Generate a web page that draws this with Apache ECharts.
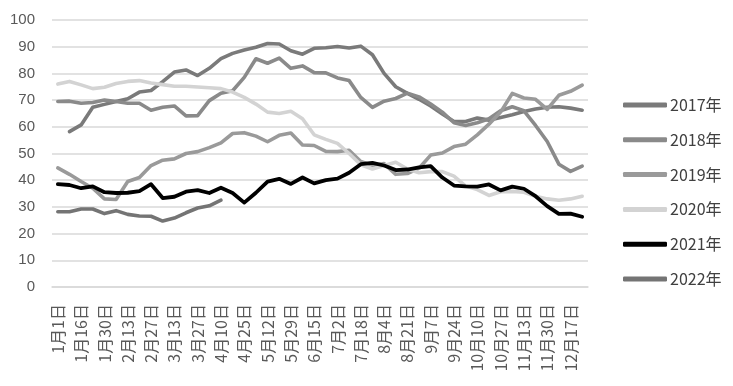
<!DOCTYPE html>
<html>
<head>
<meta charset="utf-8">
<script src="https://cdn.jsdelivr.net/npm/echarts@6/dist/echarts.min.js"></script>
<style>html,body{margin:0;padding:0;background:#fff;}#c{width:733px;height:386px;}</style>
</head>
<body>
<div id="c"></div>
<script>
var categories = ['1月1日','1月8日','1月16日','1月23日','1月30日','2月6日','2月13日','2月20日','2月27日','3月6日',
  '3月13日','3月20日','3月27日','4月3日','4月10日','4月17日','4月25日','5月4日','5月12日','5月20日',
  '5月29日','6月7日','6月15日','6月23日','7月2日','7月10日','7月18日','7月25日','8月4日','8月13日',
  '8月21日','8月30日','9月7日','9月15日','9月24日','10月2日','10月10日','10月18日','10月27日','11月5日',
  '11月13日','11月21日','11月30日','12月8日','12月17日','12月25日'];
var seriesNames = ['2017年','2018年','2019年','2020年','2021年','2022年'];
var y2017 = [null,58.2,60.7,67.3,68.4,69.5,70.5,73.0,73.6,76.9,80.5,81.3,79.2,81.9,85.5,87.5,88.8,89.8,91.2,91.0,
  88.5,87.2,89.4,89.6,90.1,89.5,90.2,87.0,80.0,75.0,72.5,70.3,67.8,64.8,62.0,62.0,63.3,62.5,63.5,64.5,
  65.7,66.7,67.3,67.5,67.0,66.2];
var y2018 = [69.5,69.6,68.8,69.1,70.0,69.5,68.8,68.8,66.2,67.3,67.8,64.1,64.2,69.8,72.6,73.5,78.5,85.5,83.8,85.7,
  81.9,82.8,80.3,80.2,78.3,77.3,71.0,67.3,69.6,70.6,72.6,71.2,68.5,65.5,61.5,60.5,61.5,63.0,66.0,67.5,
  66.0,60.5,54.5,46.0,43.3,45.3];
var y2019 = [44.6,42.2,39.5,37.0,33.0,32.8,39.5,41.0,45.5,47.5,48.0,50.0,50.7,52.2,54.0,57.5,57.8,56.5,54.4,56.8,
  57.7,53.2,53.0,50.8,50.7,51.2,47.0,45.5,46.2,42.2,42.5,44.5,49.4,50.2,52.6,53.5,57.0,61.0,65.5,72.5,
  70.8,70.3,66.5,71.8,73.3,75.6];
var y2020 = [76.0,77.0,75.7,74.3,74.8,76.2,77.0,77.3,76.4,75.8,75.2,75.2,74.9,74.6,74.3,73.0,71.0,68.5,65.5,65.0,
  65.8,63.0,57.0,55.3,53.8,50.0,45.8,44.2,45.5,46.7,44.2,42.8,43.2,43.2,41.5,37.8,36.5,34.3,35.7,35.8,
  35.5,34.0,33.0,32.5,33.0,34.0];
var y2021 = [38.5,38.2,37.0,37.7,35.5,35.2,35.3,35.9,38.5,33.3,33.8,35.7,36.3,35.2,37.2,35.2,31.6,35.3,39.5,40.5,
  38.6,41.0,38.8,40.0,40.6,42.8,46.0,46.5,45.5,43.8,44.0,44.8,45.3,41.0,38.0,37.7,37.6,38.4,36.2,37.6,
  36.8,34.0,30.3,27.4,27.5,26.3];
var y2022 = [28.2,28.2,29.2,29.2,27.5,28.6,27.2,26.6,26.5,24.7,25.8,27.8,29.6,30.4,32.5];
var yTicks = {min:0, max:100, interval:10};

var colors = ['#7a7a7a','#8a8a8a','#9a9a9a','#d3d3d3','#000000','#747474'];
var dataList = [y2017,y2018,y2019,y2020,y2021,y2022];

var chart = echarts.init(document.getElementById('c'), null, {renderer:'canvas'});
var series = seriesNames.map(function(n,i){
  return {
    name:n, type:'line', data:dataList[i], symbol:'none', showSymbol:false,
    connectNulls:false, animation:false,
    lineStyle:{color:colors[i], width: i===4 ? 3.8 : 3.6, cap:'round', join:'round'},
    itemStyle:{color:colors[i]}
  };
});
chart.setOption({
  animation:false,
  backgroundColor:'#ffffff',
  color:colors,
  grid:{left:52, right:145, top:20, bottom:99, containLabel:false},
  legend:{
    orient:'vertical', left:618, top:92, itemWidth:44, itemHeight:5, itemGap:18.8,
    icon:'roundRect',
    textStyle:{fontSize:16, color:'#404040', fontFamily:'Noto Sans CJK SC', lineHeight:16, padding:[0,0,0,-2]},
    data:seriesNames
  },
  xAxis:{
    type:'category', data:categories, boundaryGap:true,
    axisLine:{show:true, lineStyle:{color:'#d9d9d9', width:1.5}},
    axisTick:{show:false},
    axisLabel:{interval:1, rotate:90, margin:17, fontSize:16, color:'#595959', fontFamily:'Noto Sans CJK SC'},
    splitLine:{show:false}
  },
  yAxis:{
    type:'value', min:yTicks.min, max:yTicks.max, interval:yTicks.interval,
    axisLine:{show:false}, axisTick:{show:false},
    axisLabel:{fontSize:15, color:'#595959', margin:17, fontFamily:'Liberation Sans'},
    splitLine:{lineStyle:{color:'#d9d9d9', width:1.5}}
  },
  series:series
});
</script>
</body>
</html>
